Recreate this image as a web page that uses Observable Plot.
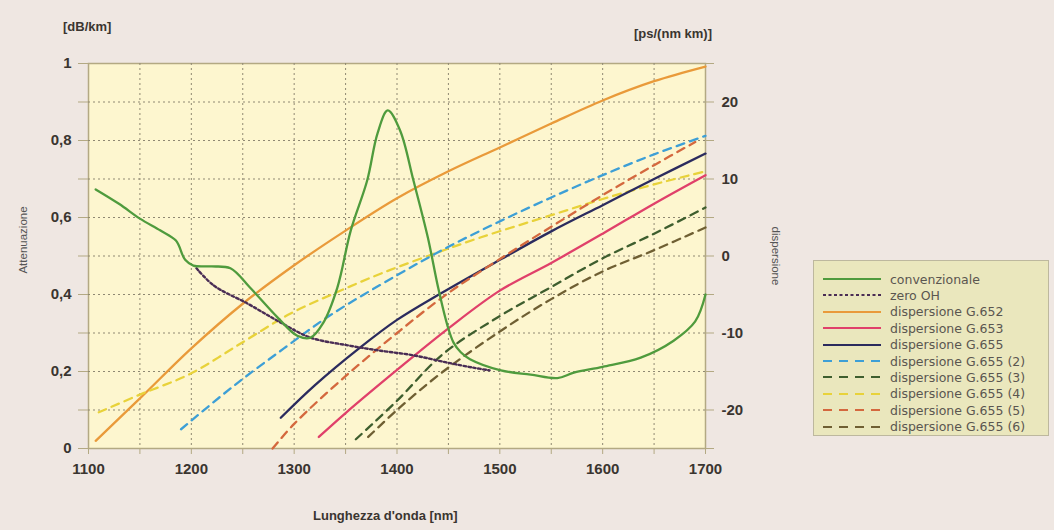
<!DOCTYPE html>
<html>
<head>
<meta charset="utf-8">
<script src="https://cdn.jsdelivr.net/npm/d3@7"></script>
<script src="https://cdn.jsdelivr.net/npm/@observablehq/plot@0.6"></script>
<style>
  html, body { margin: 0; padding: 0; background: #efe7e2; }
  #wrap { position: relative; width: 1054px; height: 530px; overflow: hidden; font-family: "Liberation Sans", Arial, sans-serif; }
  #wrap svg.plot { position: absolute; left: 0; top: 0; }
  .unit { position: absolute; font-weight: bold; font-size: 13px; color: #3a3530; white-space: nowrap; }
  .vlab { position: absolute; font-size: 11.5px; color: #555; white-space: nowrap; }
  #legend { position: absolute; left: 813px; top: 260px; width: 236px; height: 176px; background: #eae7bd; border: 1px solid #bdb89e; box-sizing: border-box; }
  #legend .row { position: absolute; left: 8px; height: 16px; display: flex; align-items: center; }
  #legend .row span { font-family: "DejaVu Sans", sans-serif; font-size: 12.5px; color: #5a5650; margin-left: 8px; }
</style>
</head>
<body>
<div id="wrap"></div>
<script>
// ---------- data ----------
// attenuation curves [dB/km]
const convNm  = [1107,1130,1150,1170,1185,1194,1202,1220,1238,1257,1284,1303,1316,1328,1342,1355,1371,1381,1391,1403,1416,1430,1440,1449,1455,1462,1471,1501,1530,1556,1572,1600,1637,1669,1690,1700];
const convAtt = [0.673,0.635,0.597,0.566,0.540,0.490,0.475,0.473,0.468,0.418,0.340,0.293,0.288,0.325,0.418,0.566,0.696,0.818,0.878,0.826,0.696,0.548,0.418,0.320,0.275,0.250,0.232,0.203,0.192,0.183,0.197,0.212,0.236,0.280,0.330,0.400];
const zeroOhNm  = [1205,1222,1255,1287,1316,1352,1384,1416,1449,1474,1490];
const zeroOhAtt = [0.468,0.423,0.376,0.327,0.288,0.268,0.254,0.242,0.223,0.210,0.203];

// dispersion curves [ps/(nm km)]
const g652Nm   = [1107,1150,1200,1250,1300,1350,1400,1450,1500,1550,1600,1650,1700];
const g652D    = [-24,-18.5,-12,-6.2,-1.2,3.3,7.5,11,14.1,17.2,20.2,22.7,24.6];
const g653Nm   = [1324,1350,1400,1450,1500,1550,1600,1650,1700];
const g653D    = [-23.5,-20.4,-14.8,-9.4,-4.5,-0.9,2.9,6.8,10.5];
const g655Nm   = [1287,1320,1364,1400,1442,1500,1550,1600,1650,1700];
const g655D    = [-21,-16.8,-11.9,-8.3,-4.9,-0.5,3.2,6.6,10,13.3];
const g655_2Nm = [1190,1240,1290,1335,1400,1450,1500,1550,1600,1650,1700];
const g655_2D  = [-22.5,-17,-12,-7.7,-2.5,1.2,4.5,7.6,10.5,13.2,15.6];
const g655_3Nm = [1360,1400,1445,1500,1549,1600,1650,1700];
const g655_3D  = [-23.8,-18.8,-12.7,-7.8,-4.1,-0.3,2.9,6.3];
const g655_4Nm = [1110,1150,1199,1250,1296,1340,1384,1430,1481,1550,1600,1650,1700];
const g655_4D  = [-20.3,-18,-15.3,-11.2,-7.5,-4.8,-2.3,0,2.4,5.3,7.4,9.3,11];
const g655_5Nm = [1279,1300,1350,1400,1450,1500,1550,1600,1650,1690];
const g655_5D  = [-25,-21.8,-15.6,-10,-4.8,-0.4,3.8,7.9,11.8,14.8];
const g655_6Nm = [1372,1400,1442,1500,1550,1600,1649,1700];
const g655_6D  = [-23.5,-20,-15.3,-9.8,-5.6,-2,0.7,3.7];

// ticks
const xTicks      = [1100,1150,1200,1250,1300,1350,1400,1450,1500,1550,1600,1650,1700];
const xTickLabels = ["1100","","1200","","1300","","1400","","1500","","1600","","1700"];
const attTicks      = [0,0.1,0.2,0.3,0.4,0.5,0.6,0.7,0.8,0.9,1];
const attTickLabels = ["0","","0,2","","0,4","","0,6","","0,8","","1"];
const dispTicks      = [-25,-20,-15,-10,-5,0,5,10,15,20,25];
const dispTickLabels = ["","-20","","-10","","0","","10","","20",""];

// series names, colours, dash styles
const names   = ["convenzionale","zero OH","dispersione G.652","dispersione G.653","dispersione G.655","dispersione G.655 (2)","dispersione G.655 (3)","dispersione G.655 (4)","dispersione G.655 (5)","dispersione G.655 (6)"];
const colors  = ["#4f9b3d","#4a2d55","#e99a3a","#e0406a","#2b2b5e","#3d9fd6","#3e5e2e","#e8d23a","#d4683e","#6f5f33"];
const dashes  = [null,"2.5,2.5",null,null,null,"8,6","8,6","8,6","8,6","8,6"];

// ---------- build ----------
// map dispersion onto the attenuation (left) scale: -25..25 -> 0..1
const d2a = d => 0.5 + d / 50;
const series = [
  convNm.map((x,i)=>({x, y: convAtt[i]})),
  zeroOhNm.map((x,i)=>({x, y: zeroOhAtt[i]})),
  g652Nm.map((x,i)=>({x, y: d2a(g652D[i])})),
  g653Nm.map((x,i)=>({x, y: d2a(g653D[i])})),
  g655Nm.map((x,i)=>({x, y: d2a(g655D[i])})),
  g655_2Nm.map((x,i)=>({x, y: d2a(g655_2D[i])})),
  g655_3Nm.map((x,i)=>({x, y: d2a(g655_3D[i])})),
  g655_4Nm.map((x,i)=>({x, y: d2a(g655_4D[i])})),
  g655_5Nm.map((x,i)=>({x, y: d2a(g655_5D[i])})),
  g655_6Nm.map((x,i)=>({x, y: d2a(g655_6D[i])}))
];
const drawOrder = [2,7,5,4,8,3,6,9,1,0];

const gridStroke = "#8f8872";
const axisStroke = "#b3a983";
const textColor = "#3a3530";

const marks = [
  Plot.frame({fill: "#fdf6cf", stroke: axisStroke, strokeWidth: 1.5}),
  Plot.ruleX(xTicks.slice(1, -1), {stroke: gridStroke, strokeDasharray: "2,3", strokeWidth: 1}),
  Plot.ruleY(attTicks.slice(1, -1), {stroke: gridStroke, strokeDasharray: "2,3", strokeWidth: 1}),
  Plot.axisX(xTicks, {tickFormat: (d,i) => xTickLabels[i], tickSize: 6, tickPadding: 9, stroke: axisStroke, fill: textColor, fontSize: 15, fontWeight: "bold"}),
  Plot.axisY(attTicks, {anchor: "left", tickFormat: (d,i) => attTickLabels[i], tickSize: 10, tickPadding: 7, stroke: axisStroke, fill: textColor, fontSize: 15, fontWeight: "bold", label: null}),
  Plot.axisY(dispTicks.map(d2a), {anchor: "right", tickFormat: (d,i) => dispTickLabels[i], tickSize: 8, tickPadding: 8, stroke: axisStroke, fill: textColor, fontSize: 15, fontWeight: "bold", label: null}),
  ...drawOrder.map(k => Plot.line(series[k], {x: "x", y: "y", stroke: colors[k], strokeWidth: k === 1 ? 2.4 : 2.3, strokeDasharray: dashes[k] ?? undefined, curve: "catmull-rom"}))
];

const chart = Plot.plot({
  width: 1054,
  height: 530,
  marginLeft: 88,
  marginRight: 349,
  marginTop: 63,
  marginBottom: 82,
  style: {background: "transparent", fontFamily: "Liberation Sans, Arial, sans-serif"},
  x: {domain: [1100, 1700], label: null},
  y: {domain: [0, 1], label: null},
  marks
});
chart.classList.add("plot");
const wrap = document.getElementById("wrap");
wrap.appendChild(chart);

// ---------- texts ----------
function addText(cls, text, css) {
  const el = document.createElement("div");
  el.className = cls;
  el.textContent = text;
  Object.assign(el.style, css);
  wrap.appendChild(el);
  return el;
}
addText("unit", "[dB/km]", {left: "63px", top: "19px"});
addText("unit", "[ps/(nm km)]", {left: "634px", top: "26px"});
addText("unit", "Lunghezza d'onda [nm]", {left: "313px", top: "508px"});
addText("vlab", "Attenuazione", {left: "23px", top: "240px", transform: "translate(-50%,-50%) rotate(-90deg)"});
addText("vlab", "dispersione", {left: "776px", top: "256px", transform: "translate(-50%,-50%) rotate(90deg)"});

// ---------- legend ----------
const legend = document.createElement("div");
legend.id = "legend";
names.forEach((name, k) => {
  const row = document.createElement("div");
  row.className = "row";
  row.style.top = (10 + k * 16.4) + "px";
  const ns = "http://www.w3.org/2000/svg";
  const svg = document.createElementNS(ns, "svg");
  svg.setAttribute("width", "60");
  svg.setAttribute("height", "10");
  const ln = document.createElementNS(ns, "line");
  ln.setAttribute("x1", "1"); ln.setAttribute("x2", "59");
  ln.setAttribute("y1", "5"); ln.setAttribute("y2", "5");
  ln.setAttribute("stroke", colors[k]);
  ln.setAttribute("stroke-width", "2.2");
  if (dashes[k]) ln.setAttribute("stroke-dasharray", k === 1 ? "3,2.5" : "9,7");
  svg.appendChild(ln);
  row.appendChild(svg);
  const sp = document.createElement("span");
  sp.textContent = name;
  row.appendChild(sp);
  legend.appendChild(row);
});
wrap.appendChild(legend);
</script>
</body>
</html>
